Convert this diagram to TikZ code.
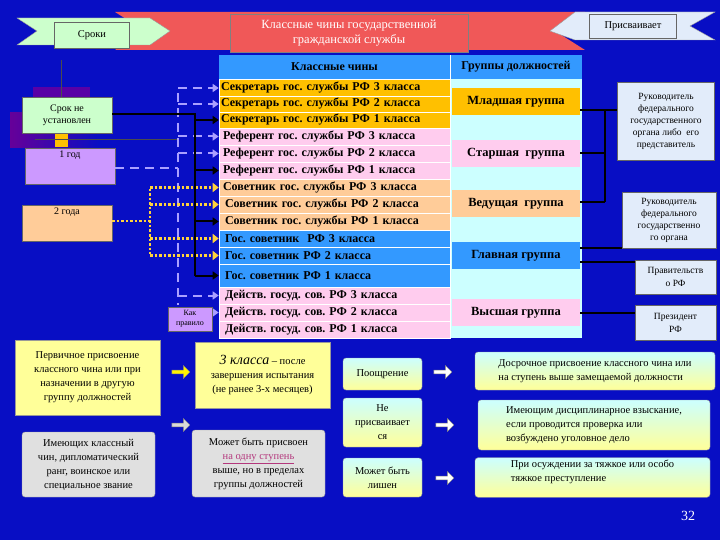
\documentclass[tikz,border=0pt]{standalone}
\usepackage{fontspec}
\setmainfont{Liberation Serif}
\frenchspacing
\usetikzlibrary{shapes.arrows,arrows.meta}
\definecolor{bg}{RGB}{8,14,196}
\definecolor{gold}{RGB}{255,192,0}
\definecolor{pinkr}{RGB}{255,204,238}
\definecolor{peach}{RGB}{255,204,153}
\definecolor{blu}{RGB}{51,153,255}
\definecolor{cyanl}{RGB}{204,255,255}
\definecolor{lgreen}{RGB}{204,255,204}
\definecolor{lav}{RGB}{204,153,255}
\definecolor{lyel}{RGB}{255,255,153}
\definecolor{redt}{RGB}{240,88,88}
\definecolor{pale}{RGB}{226,236,250}
\definecolor{dashc}{RGB}{170,160,255}
\definecolor{dotc}{RGB}{255,210,60}
\tikzset{
 row/.style={draw=white,line width=0.6pt,minimum width=231pt,text width=227pt,align=left,minimum height=17pt,inner xsep=2pt,inner ysep=0pt,font=\bfseries\fontsize{12}{13}\selectfont},
 grp/.style={minimum width=128pt,minimum height=27pt,inner sep=0pt,font=\bfseries\fontsize{12.5}{13}\selectfont},
 sbox/.style={draw=black!60,inner sep=1pt,align=center,font=\fontsize{10}{12}\selectfont},
 lbox/.style={draw=black!40,rounded corners=3pt,inner sep=2pt,align=center,font=\fontsize{10.5}{14}\selectfont},
 grad/.style={top color=cyanl,bottom color=lyel},
 blkarr/.style={line width=2pt,-{Triangle[length=6pt,width=8pt]}},
 dasharr/.style={dashc,line width=2pt,dash pattern=on 9pt off 6pt,-{Triangle[length=6pt,width=8pt]}},
 dotarr/.style={dotc,line width=2.5pt,dotted,-{Triangle[length=6pt,width=9pt]}},
 conn/.style={line width=2pt,black},
 barr/.style={single arrow,draw=black!50,minimum height=18pt,minimum width=13pt,single arrow head extend=3pt,inner sep=1pt}
}
\begin{document}
\begin{tikzpicture}[x=1pt,y=-1pt]
\fill[bg] (0,0) rectangle (720,540);
\useasboundingbox (0,0) rectangle (720,540);
% ribbons
\fill[redt] (115,12)--(585,12)--(555,31)--(585,50)--(115,50)--(145,31)--cycle;
\fill[lgreen,draw=black!40] (17,18)--(150,18)--(170,31)--(150,45)--(17,45)--(37,31)--cycle;
\fill[pale,draw=black!40] (550,31)--(575,12)--(715,12)--(690,26)--(715,40)--(575,40)--cycle;
\node[draw=black!60,fill=lgreen,minimum width=75pt,minimum height=26pt,font=\fontsize{10.5}{11}\selectfont] (sroki) at (92,35) {Сроки};
\node[draw=black!60,fill=pale,minimum width=87pt,minimum height=24pt,font=\fontsize{10.5}{11}\selectfont] (prisv) at (633,26) {Присваивает};
\node[draw=black!50,fill=redt,minimum width=238pt,minimum height=38pt,align=center,text=white,font=\fontsize{12.5}{15}\selectfont] (title) at (349,33) {Классные чины государственной\\гражданской службы};
% table
\node[fill=blu,minimum width=231pt,minimum height=24pt,font=\bfseries\fontsize{12}{13}\selectfont] (h1) at (334.5,67) {Классные чины};
\node[fill=blu,minimum width=132pt,minimum height=24pt,font=\bfseries\fontsize{12}{13}\selectfont] (h2) at (516,67) {Группы должностей};
\node[fill=cyanl,minimum width=132pt,minimum height=259pt,inner sep=0pt] (gcol) at (516,208.5) {};
\node[row,fill=gold] (s3) at (334.5,88) {Секретарь гос. службы РФ 3 класса};
\node[row,fill=gold,minimum height=16pt] (s2) at (334.5,104) {Секретарь гос. службы РФ 2 класса};
\node[row,fill=gold,minimum height=16pt] (s1) at (334.5,120) {Секретарь гос. службы РФ 1 класса};
\node[row,fill=pinkr] (r3) at (334.5,136.5) {\hspace{2pt}Референт гос. службы РФ 3 класса};
\node[row,fill=pinkr] (r2) at (334.5,153.5) {\hspace{2pt}Референт гос. службы РФ 2 класса};
\node[row,fill=pinkr] (r1) at (334.5,170.5) {\hspace{2pt}Референт гос. службы РФ 1 класса};
\node[row,fill=peach] (c3) at (334.5,187.5) {\hspace{2pt}Советник гос. службы РФ 3 класса};
\node[row,fill=peach] (c2) at (334.5,204.5) {\hspace{4pt}Советник гос. службы РФ 2 класса};
\node[row,fill=peach] (c1) at (334.5,221.5) {\hspace{4pt}Советник гос. службы РФ 1 класса};
\node[row,fill=blu] (g3) at (334.5,238.5) {\hspace{4pt}Гос. советник\ \ РФ 3 класса};
\node[row,fill=blu] (g2) at (334.5,255.5) {\hspace{4pt}Гос. советник РФ 2 класса};
\node[row,fill=blu,minimum height=23pt] (g1) at (334.5,275.5) {\hspace{4pt}Гос. советник РФ 1 класса};
\node[row,fill=pinkr] (d3) at (334.5,295.5) {\hspace{4pt}Действ. госуд. сов. РФ 3 класса};
\node[row,fill=pinkr] (d2) at (334.5,312.5) {\hspace{4pt}Действ. госуд. сов. РФ 2 класса};
\node[row,fill=pinkr] (d1) at (334.5,329.5) {\hspace{4pt}Действ. госуд. сов. РФ 1 класса};
\draw[white,line width=0.8pt] (450,55)--(450,338);
\node[grp,fill=gold] (gm) at (516,101.5) {Младшая группа};
\node[grp,fill=pinkr] (gs) at (516,153.5) {Старшая\ \ группа};
\node[grp,fill=peach] (gv) at (516,204) {Ведущая\ \ группа};
\node[grp,fill=blu] (gg) at (516,255.5) {Главная группа};
\node[grp,fill=pinkr] (gw) at (516,312.5) {Высшая группа};
% left decoration
\shade[left color=violet!80!blue,right color=bg] (10,113) rectangle (100,148);
\fill[violet!70!blue] (33,87) rectangle (90,100);
\fill[gold] (55,130) rectangle (68,147);
\draw[black!70,line width=1pt] (61,60)--(61,97);
\draw[black!70,line width=1pt] (35,140)--(178,140);
% left boxes
\node[sbox,fill=lgreen,minimum width=90pt,minimum height=36pt] (nu) at (67,115) {Срок не\\установлен};
\node[sbox,fill=lav,minimum width=90pt,minimum height=36pt,anchor=north] (g1y) at (70,148) {1 год\\[12pt]};
\node[sbox,fill=peach,minimum width=90pt,minimum height=36pt,anchor=north] (g2y) at (67,205) {2 года\\[12pt]};
% dashed lavender
\coordinate (dj) at (178,168);
\draw[dashc,line width=2pt,dash pattern=on 9pt off 6pt] (g1y.east |- dj) -- (dj);
\draw[dashc,line width=2pt,dash pattern=on 9pt off 6pt] (178,93) -- (178,305);
\foreach \n in {s3,s2,r3,r2,d3,d2} \draw[dasharr] (dj |- \n.west) -- (\n.west);
\node[sbox,fill=lav,minimum width=44pt,minimum height=24pt,font=\fontsize{8}{10}\selectfont] (kp) at (190,319) {Как\\правило};
% dotted yellow
\coordinate (yj) at (150,221);
\draw[dotc,line width=2.5pt,dotted] (g2y.east |- yj) -- (yj);
\draw[dotc,line width=2.5pt,dotted] (150,189) -- (150,254);
\foreach \n in {c3,c2,g3,g2} \draw[dotarr] (yj |- \n.west) -- (\n.west);
% black
\coordinate (bj) at (195,114);
\draw[conn] (nu.east |- bj) -- (bj) -- (195,275.5);
\foreach \n in {s1,r1,c1,g1} \draw[blkarr] (bj |- \n.west) -- (\n.west);
% right boxes
\node[sbox,fill=pale,minimum width=97pt,minimum height=78pt,font=\fontsize{9.5}{12}\selectfont] (rk1) at (666,121) {Руководитель\\федерального\\государственного\\органа либо\ \ его\\представитель};
\node[sbox,fill=pale,minimum width=94pt,minimum height=56pt,font=\fontsize{9.5}{12}\selectfont] (rk2) at (669,220) {Руководитель\\федерального\\государственно\\го органа};
\node[sbox,fill=pale,minimum width=81pt,minimum height=34pt,font=\fontsize{9.5}{13}\selectfont] (prav) at (675.5,277) {Правительств\\о РФ};
\node[sbox,fill=pale,minimum width=81pt,minimum height=35pt,font=\fontsize{9.5}{13}\selectfont] (pres) at (675.5,322.5) {Президент\\РФ};
\coordinate (rj) at (605,110);
\draw[conn] (gm.east |- rj) -- (rk1.west |- rj);
\draw[conn] (rj) -- (605,202);
\draw[conn] (gs.east) -- (605,153.5);
\draw[conn] (gv.east |- 0,202) -- (605,202);
\draw[conn] (gg.east |- 0,248) -- (rk2.west |- 0,248);
\draw[conn] (gg.east |- 0,262) -- (prav.west |- 0,262);
\draw[conn] (gw.east |- 0,313) -- (pres.west |- 0,313);
% bottom
\node[lbox,rounded corners=0pt,fill=lyel,minimum width=145pt,minimum height=75pt] (perv) at (87.5,377.5) {Первичное присвоение\\классного чина или при\\назначении в другую\\группу должностей};
\node[barr,fill=yellow] (a1) at (180,372) {};
\node[lbox,rounded corners=0pt,fill=lyel,minimum width=135pt,minimum height=66pt] (tri) at (262.5,375) {{\itshape\fontsize{14}{14}\selectfont 3 класса} -- после\\завершения испытания\\(не ранее 3-х месяцев)};
\node[lbox,fill=black!12,minimum width=133pt,minimum height=65pt] (imk) at (88.5,464.5) {Имеющих классный\\чин, дипломатический\\ранг, воинское или\\специальное звание};
\node[barr,fill=black!15] (a2) at (180,425) {};
\node[lbox,fill=black!12,minimum width=133pt,minimum height=67pt] (mbp) at (258.5,463.5) {Может быть присвоен\\{\color{magenta!70!black}\underline{на одну ступень}}\\выше, но в пределах\\группы должностей};
\node[lbox,grad,minimum width=79pt,minimum height=32pt] (poo) at (382.5,374) {Поощрение};
\node[lbox,grad,minimum width=79pt,minimum height=49pt] (nep) at (382.5,422.5) {Не\\присваивает\\ся};
\node[lbox,grad,minimum width=79pt,minimum height=39pt] (lish) at (382.5,477.5) {Может быть\\лишен};
\node[lbox,grad,minimum width=240pt,minimum height=38pt,align=left] (dos) at (595,371) {Досрочное присвоение классного чина или\\на ступень выше замещаемой должности};
\node[lbox,grad,minimum width=232pt,minimum height=50pt,align=left] (imd) at (594,425) {Имеющим дисциплинарное взыскание,\\если проводится проверка или\\возбуждено уголовное дело};
\node[lbox,grad,minimum width=235pt,minimum height=39pt,align=left] (osu) at (592.5,477.5) {При осуждении за тяжкое или особо\\тяжкое преступление\\[-0pt]};
\node[barr,fill=white] (a3) at (442,372) {};
\node[barr,fill=white] (a4) at (444,425) {};
\node[barr,fill=white] (a5) at (444,478) {};
\node[text=white,font=\fontsize{14}{15}\selectfont] (num) at (688,516) {32};
\end{tikzpicture}
\end{document}
